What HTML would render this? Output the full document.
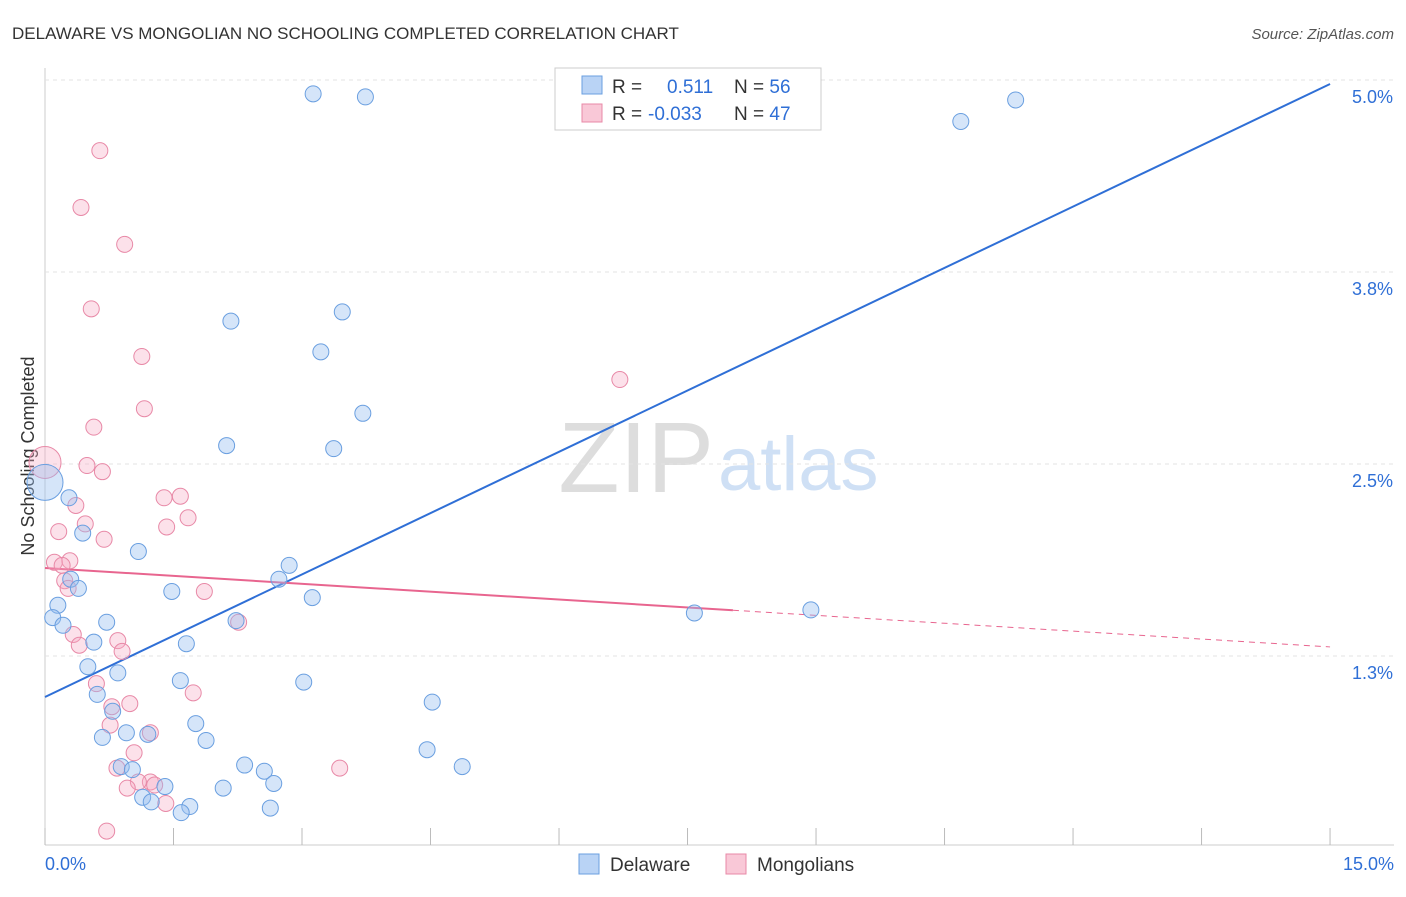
<!DOCTYPE html>
<html><head><meta charset="utf-8"><style>
body{margin:0;background:#fff;font-family:"Liberation Sans",sans-serif}
svg text{font-family:"Liberation Sans",sans-serif}
</style></head><body>
<svg id="c" width="1406" height="892">
<text x="12" y="39" font-size="17" fill="#333">DELAWARE VS MONGOLIAN NO SCHOOLING COMPLETED CORRELATION CHART</text>
<text x="1394" y="39" font-size="15" fill="#555" font-style="italic" text-anchor="end">Source: ZipAtlas.com</text>
<text x="714" y="492" font-size="100" fill="#ddd" font-family="Liberation Serif" text-anchor="end">ZIP</text>
<text x="718" y="490" font-size="76" fill="#cfe0f5">atlas</text>
<text transform="translate(34,456) rotate(-90)" font-size="18" fill="#333" text-anchor="middle">No Schooling Completed</text>
<g id="grid"></g><g id="lines"></g><g id="pts"></g>
<g>
<rect x="555" y="68" width="266" height="62" fill="#fff" stroke="#ccc"/>
<rect x="582" y="76" width="20" height="18" fill="#b9d3f5" stroke="#6a9fe0"/>
<rect x="582" y="104" width="20" height="18" fill="#f9c8d7" stroke="#e889a7"/>
<text x="612" y="93" font-size="19" fill="#333">R = <tspan fill="#2f6fd6" x="667">0.511</tspan><tspan x="734" fill="#333">N = </tspan><tspan fill="#2f6fd6">56</tspan></text>
<text x="612" y="120" font-size="19" fill="#333">R = <tspan fill="#2f6fd6" x="648">-0.033</tspan><tspan x="734" fill="#333">N = </tspan><tspan fill="#2f6fd6">47</tspan></text>
</g>
<g>
<rect x="579" y="854" width="20" height="20" fill="#b9d3f5" stroke="#6a9fe0"/>
<text x="610" y="871" font-size="19" fill="#333">Delaware</text>
<rect x="726" y="854" width="20" height="20" fill="#f9c8d7" stroke="#e889a7"/>
<text x="757" y="871" font-size="19" fill="#333">Mongolians</text>
</g>
</svg>
<script>
const yTicks=[1.25,2.5,3.75,5.0];
const yTickLabels=["1.3%","2.5%","3.8%","5.0%"];
const xTicks=[0,1.5,3,4.5,6,7.5,9,10.5,12,13.5,15];
const delX=[3.13,3.74,10.69,11.33,2.17,3.47,3.22,3.71,2.12,3.37,0.28,0.44,1.09,0.30,0.39,2.85,2.73,1.48,3.12,0.15,0.09,0.21,0.72,2.23,0.57,1.65,0.50,0.85,1.58,3.02,0.61,4.52,0.79,1.76,0.67,0.95,1.20,1.88,4.46,0.89,1.02,2.33,2.56,4.87,1.40,2.67,1.14,1.24,2.08,1.69,1.59,2.63,7.58,8.94,0.0];
const delY=[4.91,4.89,4.73,4.87,3.43,3.49,3.23,2.83,2.62,2.60,2.28,2.05,1.93,1.75,1.69,1.84,1.75,1.67,1.63,1.58,1.50,1.45,1.47,1.48,1.34,1.33,1.18,1.14,1.09,1.08,1.00,0.95,0.89,0.81,0.72,0.75,0.74,0.70,0.64,0.53,0.51,0.54,0.50,0.53,0.40,0.42,0.33,0.30,0.39,0.27,0.23,0.26,1.53,1.55,2.38];
const monX=[0.64,0.42,0.93,0.54,1.13,1.16,0.57,6.71,0.49,0.67,0.36,1.39,1.58,0.47,1.67,1.42,0.16,0.69,0.11,0.29,0.20,0.23,0.27,1.86,0.33,0.85,0.40,0.90,2.26,0.60,1.73,0.78,0.99,0.76,1.23,1.04,0.84,1.23,1.09,1.28,0.96,1.41,3.44,0.72,0.0];
const monY=[4.54,4.17,3.93,3.51,3.20,2.86,2.74,3.05,2.49,2.45,2.23,2.28,2.29,2.11,2.15,2.09,2.06,2.01,1.86,1.87,1.84,1.74,1.69,1.67,1.39,1.35,1.32,1.28,1.47,1.07,1.01,0.92,0.94,0.80,0.75,0.62,0.52,0.43,0.43,0.41,0.39,0.29,0.52,0.11,2.51];
const delLine=[0.983,4.974];
const monLine=[1.823,1.309];
const monSolidEnd=8.03;
const X=v=>45+v*85.67, Y=v=>848-v*153.6;
const NS="http://www.w3.org/2000/svg";
function mk(t,a,p){const e=document.createElementNS(NS,t);for(const k in a)e.setAttribute(k,a[k]);p.appendChild(e);return e;}
const g=document.getElementById('grid'),L=document.getElementById('lines'),P=document.getElementById('pts');
let ax=mk('line',{x1:45,y1:68,x2:45,y2:845,stroke:'#ccc'},g);


let bx=mk('line',{x1:45,y1:845,x2:1394,y2:845,stroke:'#ccc'},g);


yTicks.forEach((t,i)=>{
 const l=mk('line',{x1:45,y1:Y(t),x2:1394,y2:Y(t),stroke:'#e3e3e3','stroke-dasharray':'4,4'},g);
 
 
 const tx=mk('text',{x:1393,y:Y(t)+23,'font-size':18,fill:'#2f6fd6','text-anchor':'end'},g);
 tx.textContent=yTickLabels[i];
 
 
});
xTicks.forEach(t=>{
 const l=mk('line',{x1:X(t),y1:828,x2:X(t),y2:845,stroke:'#bbb'},g);
 
 
});
const x0=mk('text',{x:45,y:870,'font-size':18,fill:'#2f6fd6'},g);x0.textContent='0.0%';


const x1=mk('text',{x:1394,y:870,'font-size':18,fill:'#2f6fd6','text-anchor':'end'},g);x1.textContent='15.0%';


monX.forEach((v,i)=>{
 const big=i===monX.length-1;
 const c=mk('circle',{cx:X(v),cy:Y(monY[i]),r:big?16:8,fill:'rgba(246,170,195,0.35)',stroke:'#e889a7','stroke-width':1},P);
 
 
});
delX.forEach((v,i)=>{
 const big=i===delX.length-1;
 const c=mk('circle',{cx:X(v),cy:Y(delY[i]),r:big?18:8,fill:'rgba(150,190,240,0.4)',stroke:'#6a9fe0','stroke-width':1},P);
 
 
});
const mY=x=>monLine[0]+(monLine[1]-monLine[0])*x/15;
let l1=mk('line',{x1:X(0),y1:Y(delLine[0]),x2:X(15),y2:Y(delLine[1]),stroke:'#2f6fd6','stroke-width':2},L);


let l2=mk('line',{x1:X(0),y1:Y(mY(0)),x2:X(monSolidEnd),y2:Y(mY(monSolidEnd)),stroke:'#e8658f','stroke-width':2},L);


let l3=mk('line',{x1:X(monSolidEnd),y1:Y(mY(monSolidEnd)),x2:X(15),y2:Y(mY(15)),stroke:'#e8658f','stroke-width':1,'stroke-dasharray':'6,5'},L);


</script>
</body></html>
